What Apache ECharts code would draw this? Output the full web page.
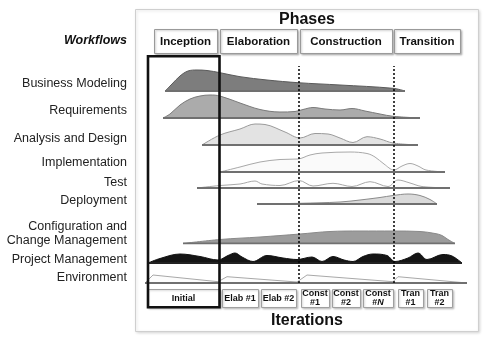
<!DOCTYPE html>
<html>
<head>
<meta charset="utf-8">
<style>
  html, body { margin: 0; padding: 0; background: #fff; }
  #chart { width: 500px; height: 352px; }
</style>
<script src="https://cdn.jsdelivr.net/npm/echarts@6/dist/echarts.min.js"></script>
</head>
<body>
<div id="chart"></div>
<script>
const FONT = '"Liberation Sans", Arial, sans-serif'

/* data: timeline position, effort height */
const workflows = ['Business Modeling', 'Requirements', 'Analysis and Design', 'Implementation', 'Test',
  'Deployment', 'Configuration and\nChange Management', 'Project Management', 'Environment']

const businessModeling = [[165,0],[172,7],[180,15],[188,20],[197,21],[207,20.5],[220,18.3],[240,14.3],[267,11],[298,8.3],[340,6],[393,2.7],[405,0]]
const requirements = [[163,0],[170,4],[180,13],[190,19],[200,22],[210,23],[220,22],[240,15],[260,8.5],[280,6],[295,6.5],[303,8.5],[313,10.5],[325,9],[340,8],[352,9.5],[365,7],[380,4],[393,1.7],[420,0]]
const analysisDesign = [[202,0],[220,10],[240,16],[255,21],[265,20.5],[285,13],[300,7],[315,11.5],[328,11],[340,7],[353,2.5],[367,8.3],[380,6],[393,2],[418,0]]
const implementation = [[220,0],[240,5],[260,10],[280,12.5],[298,13],[310,17],[322,19],[350,20],[367,18.5],[375,15],[384,8],[394,2],[402,6],[410,8.5],[418,6],[426,2],[445,0]]
const test = [[197,0],[220,2.5],[240,4],[255,7],[262,4],[280,2.5],[299,7.5],[313,2],[333,4.7],[352,1.5],[370,6.3],[388,1.5],[398,8],[410,5],[422,1.5],[450,0]]
const deployment = [[257,0],[300,0.7],[340,2],[360,4],[380,6.5],[393,8.5],[408,10],[420,8.5],[430,4.5],[437,0]]
const configuration = [[183,0],[220,4],[260,6.5],[300,9.5],[330,12],[360,12.5],[393,12.5],[420,12],[435,10],[442,8],[448,4],[455,0]]
const projectMgmt = [[148,0],[160,4.5],[180,9],[200,6.5],[218,3],[228,7.5],[235,10],[242,6],[253,1.5],[267,7.5],[283,5],[297,3.5],[312,6],[322,1.5],[333,6.5],[344,3],[353,1.5],[363,6.5],[373,9],[387,7.5],[395,1.5],[408,5],[418,10],[427,3.5],[443,8.5],[452,7],[462,0]]
const environment = [[145,0],[153,8],[218,1.3],[227,6.3],[297,1],[307,8],[393,1.3],[398,6.3],[467,0]]

const humps = [businessModeling, requirements, analysisDesign, implementation, test,
  deployment, configuration, projectMgmt, environment]

const phases = ['Inception', 'Elaboration', 'Construction', 'Transition']
const phaseStart = [154, 220, 300, 394]
const phaseEnd = [217, 297, 392, 460]

const iterations = ['Initial', 'Elab #1', 'Elab #2', 'Const\n#1', 'Const\n#2', 'Const\n#{i|N}', 'Tran\n#1', 'Tran\n#2']
const iterStart = [147, 222, 261, 301, 332, 363, 398, 427]
const iterEnd = [220, 258, 296, 329, 360, 393, 423, 452]

const phaseEdges = [299, 393.5]

/* layout + style only */
const T_MIN = 140, T_MAX = 470
const rowBase = [91, 118, 145, 172, 188, 204, 243.5, 263, 283]
const labelY = [84, 111, 139, 163, 183, 201, 233.5, 260, 278]
const fills = ['#7d7d7d', '#ababab', '#e3e3e3', '#fafafa', '#fdfdfd', '#dadada', '#9c9c9c', '#151515', '#fcfcfc']
const strokes = ['#5a5a5a', '#7a7a7a', '#9a9a9a', '#a8a8a8', '#a8a8a8', '#8a8a8a', '#8a8a8a', '#111', '#a8a8a8']
const ROW_H = 26

const grids = [], xAxes = [], yAxes = [], series = []
humps.forEach((pts, i) => {
  grids.push({ left: T_MIN, width: T_MAX - T_MIN, top: rowBase[i] - ROW_H, height: ROW_H })
  xAxes.push({ type: 'value', gridIndex: i, min: T_MIN, max: T_MAX, show: false })
  yAxes.push({ type: 'value', gridIndex: i, min: 0, max: ROW_H, show: false })
  series.push({
    type: 'line', xAxisIndex: i, yAxisIndex: i, data: pts,
    smooth: i === 8 ? false : 0.35, symbol: 'none', silent: true,
    lineStyle: { color: strokes[i], width: 1 },
    areaStyle: { color: fills[i], opacity: 1 },
    z: 3
  })
  // baseline
  series.push({
    type: 'line', xAxisIndex: i, yAxisIndex: i,
    data: [[pts[0][0], 0], [pts[pts.length - 1][0], 0]],
    symbol: 'none', silent: true,
    lineStyle: { color: i === 7 ? '#222' : '#707070', width: 1.8 },
    z: 4
  })
})
// full height grid for phase separators
grids.push({ left: T_MIN, width: T_MAX - T_MIN, top: 66, height: 217 })
xAxes.push({ type: 'value', gridIndex: 9, min: T_MIN, max: T_MAX, show: false })
yAxes.push({ type: 'value', gridIndex: 9, min: 0, max: 1, show: false })
series.push({
  type: 'line', xAxisIndex: 9, yAxisIndex: 9, data: [], z: 10,
  markLine: {
    silent: true, symbol: 'none', label: { show: false },
    lineStyle: { color: '#000', type: [2, 2], width: 1.5 },
    data: phaseEdges.map(x => ({ xAxis: x }))
  }
})

const chart = echarts.init(document.getElementById('chart'))
chart.setOption({
  backgroundColor: '#fff',
  animation: false,
  grid: grids, xAxis: xAxes, yAxis: yAxes, series
})

const px = v => chart.convertToPixel({ xAxisIndex: 9 }, v)
const graphic = []

graphic.push({
  type: 'rect', z: -10, shape: { x: 135.5, y: 9.5, width: 343, height: 322 },
  style: { fill: '#fff', stroke: '#cfcfcf', lineWidth: 1, shadowBlur: 3, shadowColor: 'rgba(0,0,0,0.15)', shadowOffsetX: 1, shadowOffsetY: 1 }
})
graphic.push({
  type: 'text', x: 307, y: 20, z: 20,
  style: { text: 'Phases', font: 'bold 16px ' + FONT, fill: '#111', align: 'center', verticalAlign: 'middle' }
})
graphic.push({
  type: 'text', x: 307, y: 321, z: 20,
  style: { text: 'Iterations', font: 'bold 16px ' + FONT, fill: '#111', align: 'center', verticalAlign: 'middle' }
})
graphic.push({
  type: 'text', x: 127, y: 41, z: 20,
  style: { text: 'Workflows', font: 'italic bold 12.5px ' + FONT, fill: '#111', align: 'right', verticalAlign: 'middle' }
})
workflows.forEach((w, i) => {
  graphic.push({
    type: 'text', x: 127, y: labelY[i], z: 20,
    style: { text: w, font: '12.5px ' + FONT, fill: '#222', align: 'right', verticalAlign: 'middle', lineHeight: 13.5 }
  })
})
phases.forEach((p, i) => {
  const x0 = px(phaseStart[i]), x1 = px(phaseEnd[i])
  graphic.push({
    type: 'rect', z: 5, shape: { x: x0 + 0.5, y: 29.5, width: x1 - x0, height: 24 },
    style: { fill: '#fff', stroke: '#9a9a9a', lineWidth: 1, shadowBlur: 2, shadowColor: 'rgba(0,0,0,0.25)', shadowOffsetX: 1, shadowOffsetY: 1 }
  })
  graphic.push({
    type: 'text', x: (x0 + x1) / 2, y: 41.5, z: 6,
    style: { text: p, font: 'bold 11.5px ' + FONT, fill: '#111', align: 'center', verticalAlign: 'middle' }
  })
})
iterations.forEach((it, i) => {
  const x0 = px(iterStart[i]), x1 = px(iterEnd[i])
  graphic.push({
    type: 'rect', z: 5, shape: { x: x0 + 0.5, y: 289.5, width: x1 - x0, height: 18 },
    style: { fill: '#fff', stroke: '#a0a0a0', lineWidth: 1, shadowBlur: 2, shadowColor: 'rgba(0,0,0,0.2)', shadowOffsetX: 1, shadowOffsetY: 1 }
  })
  graphic.push({
    type: 'text', x: (x0 + x1) / 2, y: 298.5, z: 6,
    style: {
      text: it, font: 'bold 9px ' + FONT, fill: '#111', align: 'center', verticalAlign: 'middle', lineHeight: 9,
      rich: { i: { font: 'italic bold 9px ' + FONT, fill: '#111' } }
    }
  })
})
// inception frame
graphic.push({
  type: 'rect', z: 30, shape: { x: px(148), y: 56.3, width: px(219.5) - px(148), height: 251 },
  style: { fill: 'none', stroke: '#111', lineWidth: 2.6 }
})

chart.setOption({ graphic })
</script>
</body>
</html>
